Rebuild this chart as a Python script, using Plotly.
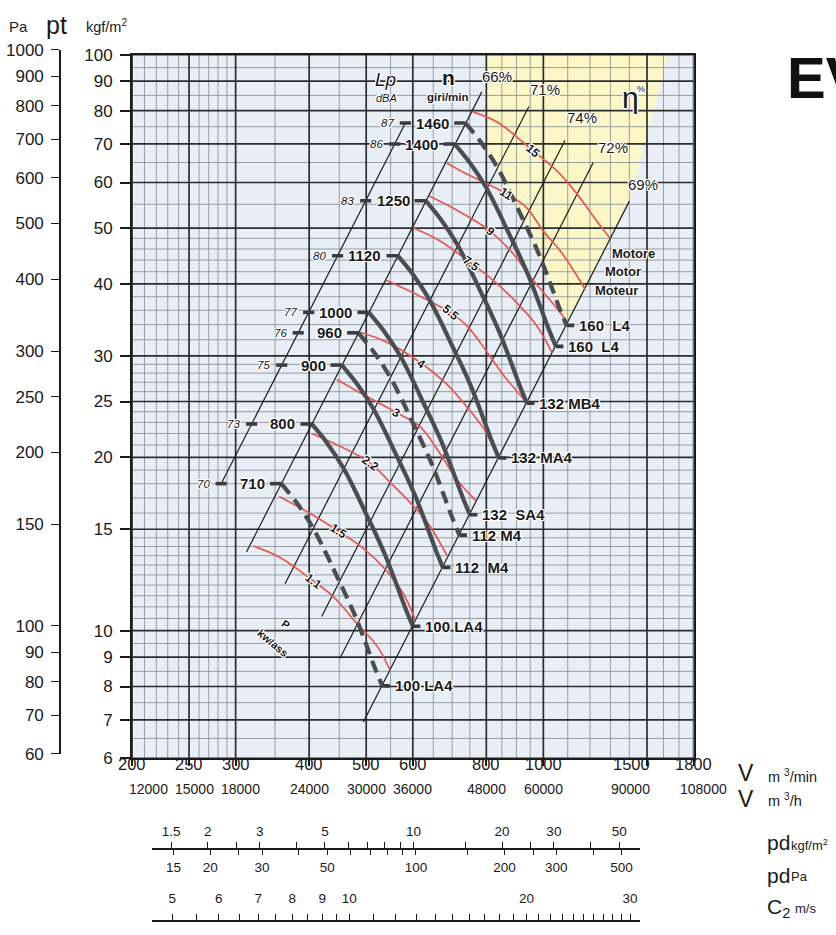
import numpy as np
import plotly.graph_objects as go

W, H = 836, 935
NUMF = "Liberation Sans, Arial, Helvetica, sans-serif"
SANS = "Liberation Sans, Arial, Helvetica, sans-serif"
HALO = ("1px 0 0 #fff, -1px 0 0 #fff, 0 1px 0 #fff, 0 -1px 0 #fff, "
        "1px 1px 0 #fff, -1px -1px 0 #fff, 1px -1px 0 #fff, -1px 1px 0 #fff")

# ---------------- axis scales ----------------
V_TICKS = [200, 250, 300, 400, 500, 600, 800, 1000, 1500, 1800]          # m3/min
V_TICKS_H = [12000, 15000, 18000, 24000, 30000, 36000, 48000, 60000, 90000, 108000]  # m3/h
V_MINOR = [210, 220, 230, 240, 260, 270, 280, 290, 350, 450, 550, 650, 700, 750,
           850, 900, 950, 1100, 1200, 1300, 1400, 1600, 1700]
P_TICKS = [6, 7, 8, 9, 10, 15, 20, 25, 30, 40, 50, 60, 70, 80, 90, 100]   # kgf/m2
P_MINOR = [6.5, 7.5, 8.5, 9.5, 10.5, 11, 11.5, 12, 12.5, 13, 13.5, 14, 14.5, 16, 17, 18, 19,
           21, 22, 23, 24, 26, 27, 28, 29, 32, 34, 36, 38, 42, 44, 46, 48, 55, 65, 75, 85, 95]
PA_TICKS = [60, 70, 80, 90, 100, 150, 200, 250, 300, 400, 500, 600, 700, 800, 900, 1000]
PD_KGF_LABELS = [1.5, 2, 3, 5, 10, 20, 30, 50]
PD_KGF_MINOR = [2.5, 4, 6, 7, 8, 9, 15, 25, 40]
PD_PA_LABELS = [15, 20, 30, 50, 100, 200, 300, 500]
PD_PA_MINOR = [25, 40, 60, 70, 80, 90, 150, 250, 400]
C2_LABELS = [5, 6, 7, 8, 9, 10, 20, 30]
C2_MINOR = [5.5, 6.5, 7.5, 8.5, 9.5, 11, 12, 13, 14, 15, 16, 17, 18, 19,
            21, 22, 23, 24, 25, 26, 27, 28, 29]

# ---------------- fan curves (V m3/min, pt kgf/m2) ----------------
SPEEDS = [710, 800, 900, 960, 1000, 1120, 1250, 1400, 1460]
LP_DBA = [70, 73, 75, 76, 77, 80, 83, 86, 87]
LP_V = [283.5, 319.4, 359.3, 383.2, 399.2, 447.1, 499.0, 558.9, 582.8]
MOTORS = ["100 LA4", "100 LA4", "112  M4", "112 M4", "132  SA4", "132 MA4", "132 MB4", "160  L4", "160  L4"]
DASHED = [True, False, False, True, False, False, False, False, True]

FAN_V_710 = [358.6, 379.9, 404.7, 426.0, 443.8, 461.5, 479.3, 500.6, 518.3, 532.5]
FAN_P_710 = [18.0, 16.74, 15.17, 13.71, 12.55, 11.54, 10.59, 9.43, 8.57, 8.02]
FAN_V_800 = [404, 428, 456, 480, 500, 520, 540, 564, 584, 600]
FAN_P_800 = [22.85, 21.25, 19.26, 17.41, 15.94, 14.66, 13.44, 11.97, 10.88, 10.18]
FAN_V_900 = [454.5, 481.5, 513, 540, 562.5, 585, 607.5, 634.5, 657, 675]
FAN_P_900 = [28.92, 26.89, 24.38, 22.03, 20.17, 18.55, 17.01, 15.15, 13.77, 12.88]
FAN_V_960 = [484.8, 513.6, 547.2, 576, 600, 624, 648, 676.8, 700.8, 720]
FAN_P_960 = [32.9, 30.6, 27.74, 25.07, 22.95, 21.1, 19.35, 17.23, 15.67, 14.65]
FAN_V_1000 = [505, 535, 570, 600, 625, 650, 675, 705, 730, 750]
FAN_P_1000 = [35.7, 33.2, 30.1, 27.2, 24.9, 22.9, 21.0, 18.7, 17.0, 15.9]
FAN_V_1120 = [565.6, 599.2, 638.4, 672, 700, 728, 756, 789.6, 817.6, 840]
FAN_P_1120 = [44.78, 41.65, 37.76, 34.12, 31.23, 28.73, 26.34, 23.46, 21.32, 19.95]
FAN_V_1250 = [631.3, 668.8, 712.5, 750, 781.3, 812.5, 843.8, 881.3, 912.5, 937.5]
FAN_P_1250 = [55.78, 51.88, 47.03, 42.5, 38.91, 35.78, 32.81, 29.22, 26.56, 24.84]
FAN_V_1400 = [707, 749, 798, 840, 875, 910, 945, 987, 1022, 1050]
FAN_P_1400 = [69.97, 65.07, 59.0, 53.31, 48.8, 44.88, 41.16, 36.65, 33.32, 31.16]
FAN_V_1460 = [737.3, 781.1, 832.2, 876, 912.5, 949, 985.5, 1029.3, 1065.8, 1095]
FAN_P_1460 = [76.1, 70.77, 64.16, 57.98, 53.08, 48.81, 44.76, 39.86, 36.24, 33.89]

# ---------------- efficiency lines ----------------
EFF_NAMES = ["66%", "71%", "74%", "72%", "69%"]
EFF_V_LOW = [313, 364, 420, 451, 494.5]
EFF_P_LOW = [13.7, 12.06, 10.58, 8.95, 6.94]
EFF_V_HIGH = [786, 945, 1088, 1216, 1400]
EFF_P_HIGH = [86.2, 81.3, 71.0, 65.06, 55.7]

# ---------------- absorbed power curves (kW) ----------------
PWR_NAMES = ["15", "11", "9", "7.5", "5.5", "4", "3", "2.2", "1.5", "1.1"]
PWR_V_15 = [758.6, 833.3, 961.4, 1053.6, 1139.5, 1216.1, 1298]
PWR_P_15 = [79.6, 76.5, 68.05, 62.9, 57.4, 52.4, 48.0]
PWR_V_11 = [685.1, 731.1, 801.3, 866.5, 936.9, 999.8, 1067.3, 1124.4, 1177.0]
PWR_P_11 = [64.85, 62.5, 59.7, 57.4, 54.2, 49.4, 45.7, 42.3, 39.2]
PWR_V_9 = [639.3, 685.1, 750.6, 811.7, 889.2, 949.1, 1013.2, 1074.4, 1096.9]
PWR_P_9 = [56.85, 54.9, 52.1, 49.4, 45.1, 41.2, 38.1, 35.4, 34.2]
PWR_V_7_5 = [600.5, 667.4, 755.6, 833.3, 912.8, 974.3, 1034.4]
PWR_P_7_5 = [50.06, 47.5, 43.4, 40.1, 36.6, 33.85, 30.4]
PWR_V_5_5 = [540.3, 601.2, 694.0, 741.0, 801.3, 855.0, 934.4]
PWR_P_5_5 = [40.6, 38.6, 35.7, 33.85, 30.5, 27.8, 24.97]
PWR_V_4 = [488.0, 541.8, 621.3, 685.1, 750.6, 801.3, 837.5]
PWR_P_4 = [32.97, 31.7, 29.1, 26.8, 24.1, 22.0, 19.97]
PWR_V_3 = [445.6, 494.4, 563.4, 617.2, 667.4, 712.6, 768.4]
PWR_P_3 = [27.3, 25.7, 23.9, 22.6, 20.3, 18.3, 16.8]
PWR_V_2_2 = [404.1, 451.4, 507.5, 548.9, 593.5, 636.8, 686.0]
PWR_P_2_2 = [22.0, 20.9, 19.56, 18.1, 16.7, 15.37, 13.5]
PWR_V_1_5 = [355.9, 396.3, 448.4, 494.4, 541.8, 578.2, 605.3]
PWR_P_1_5 = [17.1, 16.1, 14.9, 13.9, 12.7, 11.6, 10.47]
PWR_V_1_1 = [321.4, 356.9, 406.6, 439.7, 481.8, 521.1, 548.9]
PWR_P_1_1 = [14.03, 13.4, 12.2, 11.46, 10.3, 9.42, 8.54]
PWR_LABEL_IDX = [2, 3, 3, 2, 2, 2, 2, 2, 2, 2]
PWR_LABEL_ANGLE = [40, 32, 40, 37, 40, 36, 30, 36, 33, 37]

# high-efficiency (shaded) zone outline
ZONE_V = [805.3, 1628.6, 1403.6, 1095, 1065.8, 1029.3, 985.5, 949, 912.5, 876, 832.2, 805.3]
ZONE_P = [99.5, 99.5, 56.2, 33.89, 36.24, 39.86, 44.76, 48.81, 53.08, 57.98, 64.16, 68.0]

# ======================================================================
FAN_V = [FAN_V_710, FAN_V_800, FAN_V_900, FAN_V_960, FAN_V_1000, FAN_V_1120, FAN_V_1250, FAN_V_1400, FAN_V_1460]
FAN_P = [FAN_P_710, FAN_P_800, FAN_P_900, FAN_P_960, FAN_P_1000, FAN_P_1120, FAN_P_1250, FAN_P_1400, FAN_P_1460]
PWR_V = [PWR_V_15, PWR_V_11, PWR_V_9, PWR_V_7_5, PWR_V_5_5, PWR_V_4, PWR_V_3, PWR_V_2_2, PWR_V_1_5, PWR_V_1_1]
PWR_P = [PWR_P_15, PWR_P_11, PWR_P_9, PWR_P_7_5, PWR_P_5_5, PWR_P_4, PWR_P_3, PWR_P_2_2, PWR_P_1_5, PWR_P_1_1]

X0, X1 = 132.0, 693.6     # plot frame, px
Y0, Y1 = 46.7, 765.0
VMIN, VMAX = 200, 1800
PMIN, PMAX = 6, 100

fig = go.Figure()


def line(x, y, color, width, dash=None, shape="linear"):
    fig.add_trace(go.Scatter(x=x, y=y, mode="lines", hoverinfo="skip",
                             line=dict(color=color, width=width, dash=dash, shape=shape)))


# shaded zone
fig.add_trace(go.Scatter(x=ZONE_V, y=ZONE_P, mode="lines", fill="toself", hoverinfo="skip",
                         fillcolor="rgba(253,247,196,0.95)", line=dict(width=0)))

# grid
gx, gy = [], []
for v in V_MINOR:
    gx += [v, v, None]; gy += [PMIN, PMAX, None]
for p in P_MINOR:
    gx += [VMIN, VMAX, None]; gy += [p, p, None]
line(gx, gy, "#8d949b", 0.9)
gx, gy = [], []
for v in V_TICKS:
    gx += [v, v, None]; gy += [PMIN, PMAX, None]
for p in P_TICKS:
    gx += [VMIN, VMAX, None]; gy += [p, p, None]
line(gx, gy, "#2b2d30", 1.7)

# efficiency lines, Lp line
for i in range(len(EFF_NAMES)):
    line([EFF_V_LOW[i], EFF_V_HIGH[i]], [EFF_P_LOW[i], EFF_P_HIGH[i]], "#1c1c1c", 1.2)
line([LP_V[0], LP_V[-1]], [FAN_P[0][0], FAN_P[-1][0]], "#1c1c1c", 1.2)

# power curves
for i in range(len(PWR_NAMES)):
    line(PWR_V[i], PWR_P[i], "#e8574f", 1.7, shape="spline")

# fan curves
for i in range(len(SPEEDS)):
    line(FAN_V[i], FAN_P[i], "#4a4e52", 4.2, dash=("13px,7px" if DASHED[i] else None), shape="spline")

# marks (speed, noise and motor ticks)
mx, my = [], []
for i in range(len(SPEEDS)):
    for xa, xb, y in [(FAN_V[i][0] / 1.045, FAN_V[i][0], FAN_P[i][0]),
                      (LP_V[i] / 1.022, LP_V[i] * 1.022, FAN_P[i][0]),
                      (FAN_V[i][-1], FAN_V[i][-1] * 1.03, FAN_P[i][-1])]:
        mx += [xa, xb, None]; my += [y, y, None]
line(mx, my, "#3a3d40", 3.6)

# ---------------- annotations ----------------
ann = []
lg = np.log10


def dtext(text, V, p, size=14, xanchor="center", yanchor="middle", xshift=0, yshift=0,
          bold=False, italic=False, angle=0, family=SANS, color="#1a1a1a", halo=True):
    f = dict(family=family, size=size, color=color)
    if bold:
        f["weight"] = "bold"
    if italic:
        f["style"] = "italic"
    if halo:
        f["shadow"] = HALO
    ann.append(dict(text=text, x=lg(V), y=lg(p), xref="x", yref="y", showarrow=False,
                    xanchor=xanchor, yanchor=yanchor, xshift=xshift, yshift=yshift,
                    textangle=angle, font=f))


def ptext(text, px, py, size=14, xanchor="center", yanchor="middle", bold=False, italic=False,
          angle=0, family=SANS, color="#1a1a1a", halo=False):
    f = dict(family=family, size=size, color=color)
    if bold:
        f["weight"] = "bold"
    if italic:
        f["style"] = "italic"
    if halo:
        f["shadow"] = HALO
    ann.append(dict(text=text, x=px / W, y=1 - py / H, xref="paper", yref="paper", showarrow=False,
                    xanchor=xanchor, yanchor=yanchor, textangle=angle, font=f))


for i in range(len(SPEEDS)):
    dtext(str(SPEEDS[i]), FAN_V[i][0] / 1.045, FAN_P[i][0], size=15, bold=True, xanchor="right", xshift=-3)
    dtext(str(LP_DBA[i]), LP_V[i] / 1.022, FAN_P[i][0], size=11.5, italic=True, xanchor="right", xshift=-4)
    dtext(MOTORS[i], FAN_V[i][-1] * 1.03, FAN_P[i][-1], size=15, bold=True, xanchor="left", xshift=3)

EFF_SHIFT = [(15, 15), (16, 17), (17, 23), (20, 15), (14, 17)]
for i in range(len(EFF_NAMES)):
    dtext(EFF_NAMES[i], EFF_V_HIGH[i], EFF_P_HIGH[i], size=15, xshift=EFF_SHIFT[i][0], yshift=EFF_SHIFT[i][1])

for i in range(len(PWR_NAMES)):
    k = PWR_LABEL_IDX[i]
    dtext(PWR_NAMES[i], PWR_V[i][k], PWR_P[i][k], size=12, bold=True, angle=PWR_LABEL_ANGLE[i])

# in-plot captions
ptext("Lp", 385, 72, size=19, italic=True, halo=True)
ptext("dBA", 386.7, 90.5, size=11, italic=True, halo=True)
ptext("n", 448.3, 70, size=21, bold=True, halo=True)
ptext("giri/min", 448.3, 89.5, size=11.5, bold=True, halo=True)
ptext("η", 630, 90, size=30, halo=True)
ptext("%", 640.5, 82, size=9, halo=True)
ptext("Motore", 633.3, 249.3, size=13, bold=True, halo=True)
ptext("Motor", 622.7, 268.3, size=13, bold=True, halo=True)
ptext("Moteur", 616.7, 287.3, size=13, bold=True, halo=True)
ptext("P", 285, 628, size=11, bold=True, angle=35, halo=True)
ptext("kw/ass", 273, 647, size=11, bold=True, angle=40, halo=True)

# axis headers
ptext("Pa", 18, 18, size=15, family=NUMF)
ptext("pt", 56, 16, size=25, family=NUMF)
ptext("kgf/m<sup>2</sup>", 84, 17, size=14.5, family=NUMF, xanchor="left")

# x tick labels (two rows)
ROW1_SHIFT = [0, 0, 0, 0, 0, 0, 0, 0, -16, 0]
ROW2_SHIFT = [16, 5, 5, 0, 0, 0, 0, 0, -17, 10]
for i, v in enumerate(V_TICKS):
    ann.append(dict(text=str(v), x=lg(v), y=1 - 782 / H, xref="x", yref="paper", showarrow=False,
                    xshift=ROW1_SHIFT[i], font=dict(family=NUMF, size=16.5, color="#1a1a1a")))
    ann.append(dict(text=str(V_TICKS_H[i]), x=lg(v), y=1 - 806 / H, xref="x", yref="paper", showarrow=False,
                    xshift=ROW2_SHIFT[i], font=dict(family=NUMF, size=14, color="#1a1a1a")))

ptext("V", 746, 780, size=23, family=NUMF)
ptext("m <sup>3</sup>/min", 766, 783, size=14.5, family=NUMF, xanchor="left")
ptext("V", 746, 806, size=23, family=NUMF)
ptext("m <sup>3</sup>/h", 766, 807, size=14.5, family=NUMF, xanchor="left")
ptext("pd", 765, 851, size=21, family=NUMF, xanchor="left")
ptext("kgf/m<sup>2</sup>", 789, 853, size=13, family=NUMF, xanchor="left")
ptext("pd", 765, 884, size=21, family=NUMF, xanchor="left")
ptext("Pa", 789, 886, size=13, family=NUMF, xanchor="left")
ptext("C<sub>2</sub>", 765, 918, size=21, family=NUMF, xanchor="left")
ptext("m/s", 793, 918, size=13, family=NUMF, xanchor="left")

ptext("EV", 785, 70, size=58, bold=True, xanchor="left", color="#111")

# ---------------- secondary scales (dummy traces to create the axes) ----------------
for xa, ya, xv in [("x2", "y2", 0.5), ("x3", "y3", 10), ("x4", "y3", 100), ("x5", "y3", 10)]:
    yv = 100 if ya == "y2" else 0.5
    fig.add_trace(go.Scatter(x=[xv], y=[yv], xaxis=xa, yaxis=ya, mode="markers",
                             marker=dict(opacity=0), hoverinfo="skip"))

PD_L, PD_R = 151.7, 640.0
PD_DOMAIN = [PD_L / W, PD_R / W]
PD_RANGE = [1 + (PD_L - 413.5) / 294.25, 1 + (PD_R - 413.5) / 294.25]
C2_RANGE = [1 + (PD_L - 349.3) / 588.5, 1 + (PD_R - 349.3) / 588.5]
axis_common = dict(showgrid=False, zeroline=False, showline=True, linecolor="#1a1a1a", linewidth=1.6,
                   ticks="outside", tickcolor="#1a1a1a", tickwidth=1.4, type="log")
minor_common = dict(ticks="outside", ticklen=6, tickwidth=1.4, tickcolor="#1a1a1a", showgrid=False)

fig.update_layout(
    width=W, height=H, margin=dict(l=0, r=0, t=0, b=0),
    paper_bgcolor="white", plot_bgcolor="rgba(0,0,0,0)",
    showlegend=False, hovermode=False,
    xaxis=dict(type="log", range=[lg(VMIN), lg(VMAX)], domain=[X0 / W, X1 / W], anchor="y",
               showgrid=False, zeroline=False, showline=True, mirror=True, linecolor="#1a1a1a",
               linewidth=2, ticks="outside", ticklen=6, tickwidth=1.5, tickcolor="#1a1a1a",
               tickvals=V_TICKS, showticklabels=False),
    yaxis=dict(type="log", range=[lg(PMIN), lg(PMAX)], domain=[1 - Y1 / H, 1 - Y0 / H], anchor="x",
               showgrid=False, zeroline=False, showline=True, mirror=True, linecolor="#1a1a1a",
               linewidth=2, ticks="outside", ticklen=10, tickwidth=2, tickcolor="#1a1a1a",
               tickvals=P_TICKS, ticktext=[str(v) for v in P_TICKS], ticklabelstandoff=4,
               tickfont=dict(family=NUMF, size=17, color="#1a1a1a")),
    xaxis2=dict(domain=[0, 0.05], anchor="y2", visible=False, range=[0, 1]),
    yaxis2=dict(anchor="free", position=60 / W, side="left",
                domain=[1 - 760.1 / H, 1 - 41.8 / H], range=[lg(60), 3],
                tickvals=PA_TICKS, ticktext=[str(v) for v in PA_TICKS], ticklen=8, ticklabelstandoff=4,
                tickfont=dict(family=NUMF, size=17, color="#1a1a1a"), **axis_common),
    yaxis3=dict(domain=[0, 0.1], range=[0, 1], visible=False, anchor="x3"),
    xaxis3=dict(anchor="free", position=1 - 857 / H, side="top", domain=PD_DOMAIN, range=PD_RANGE,
                tickvals=PD_KGF_LABELS, ticktext=[str(v) for v in PD_KGF_LABELS],
                minor=dict(tickvals=PD_KGF_MINOR, **minor_common),
                ticklen=6, tickfont=dict(family=NUMF, size=13.5, color="#1a1a1a"), **axis_common),
    xaxis4=dict(anchor="free", position=1 - 857 / H, side="bottom", domain=PD_DOMAIN,
                range=[r + lg(9.81) for r in PD_RANGE],
                tickvals=PD_PA_LABELS, ticktext=[str(v) for v in PD_PA_LABELS],
                minor=dict(tickvals=PD_PA_MINOR, **minor_common),
                ticklen=6, tickfont=dict(family=NUMF, size=13.5, color="#1a1a1a"), **axis_common),
    xaxis5=dict(anchor="free", position=1 - 931 / H, side="top", domain=PD_DOMAIN, range=C2_RANGE,
                tickvals=C2_LABELS, ticktext=[str(v) for v in C2_LABELS],
                minor=dict(tickvals=C2_MINOR, **minor_common),
                ticklen=6, ticklabelstandoff=6, tickfont=dict(family=NUMF, size=13.5, color="#1a1a1a"),
                **axis_common),
    annotations=ann,
    shapes=[dict(type="rect", xref="paper", yref="paper", x0=X0 / W, x1=X1 / W,
                 y0=1 - Y1 / H, y1=1 - Y0 / H, fillcolor="#e8eef5", line=dict(width=0), layer="below")],
)

fig.write_html("out.html")
